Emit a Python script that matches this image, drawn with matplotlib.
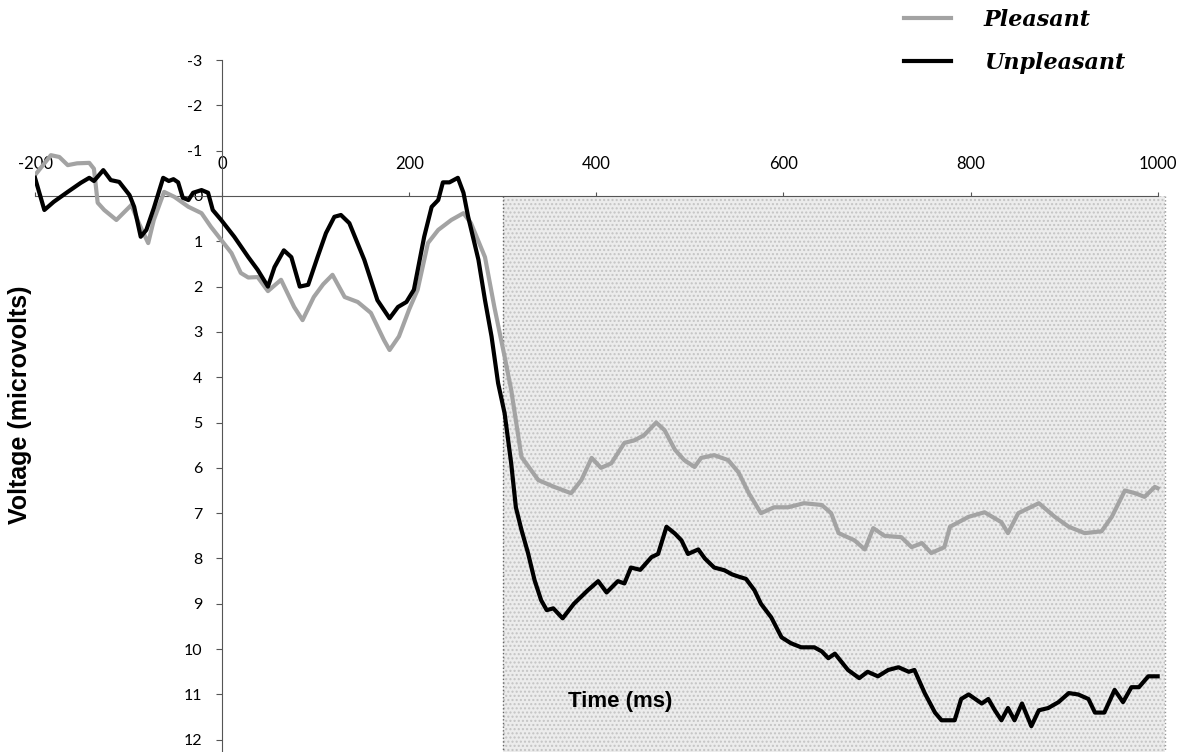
import matplotlib
matplotlib.use('Agg')
from matplotlib import pyplot as plt

plt.rcParams['axes.unicode_minus'] = False

# time (ms) / voltage (microvolts)
unpleasant_t = [-200, -190, -180, -165, -151, -142, -137, -127, -119, -110, -99, -94, -87, -81, -73, -63, -57, -52, -47, -42,
	-36, -31, -22, -15, -10, -1, 13, 28, 38, 49, 56, 66, 74, 83, 92, 102, 111, 120, 127, 136,
	152, 166, 179, 188, 197, 205, 216, 224, 231, 236, 243, 252, 258, 263, 274, 281, 288, 295, 302, 309,
	314, 320, 327, 334, 341, 347, 354, 364, 376, 391, 402, 411, 423, 430, 437, 447, 459, 466, 475, 484,
	491, 498, 509, 516, 526, 537, 545, 552, 560, 569, 576, 587, 598, 608, 619, 633, 641, 648, 655, 669,
	681, 690, 701, 712, 723, 734, 740, 751, 762, 769, 783, 790, 798, 812, 819, 826, 833, 840, 847, 855,
	865, 873, 883, 894, 905, 915, 926, 933, 943, 954, 963, 972, 980, 990, 1000]
unpleasant_v = [-0.4, 0.31, 0.13, -0.09, -0.29, -0.4, -0.33, -0.57, -0.35, -0.31, -0.02, 0.24, 0.9, 0.75, 0.27, -0.4, -0.33, -0.37, -0.3, 0.04,
	0.09, -0.07, -0.13, -0.07, 0.31, 0.53, 0.9, 1.35, 1.63, 2.0, 1.57, 1.2, 1.35, 2.0, 1.96, 1.35, 0.82, 0.46, 0.42, 0.6,
	1.41, 2.3, 2.7, 2.45, 2.34, 2.07, 0.9, 0.24, 0.09, -0.3, -0.3, -0.4, -0.07, 0.46, 1.41, 2.3, 3.1, 4.13, 4.8, 5.9,
	6.87, 7.37, 7.88, 8.48, 8.92, 9.14, 9.1, 9.32, 9.0, 8.7, 8.5, 8.75, 8.5, 8.55, 8.2, 8.25, 7.97, 7.9, 7.3, 7.45,
	7.6, 7.9, 7.8, 8.0, 8.2, 8.26, 8.35, 8.4, 8.45, 8.7, 9.0, 9.3, 9.74, 9.87, 9.96, 9.96, 10.05, 10.2, 10.1, 10.46,
	10.64, 10.5, 10.6, 10.46, 10.4, 10.5, 10.46, 10.97, 11.4, 11.57, 11.57, 11.1, 11.0, 11.2, 11.1, 11.35, 11.57, 11.3, 11.57, 11.2,
	11.7, 11.35, 11.3, 11.17, 10.97, 11.0, 11.1, 11.4, 11.4, 10.9, 11.17, 10.84, 10.84, 10.6, 10.6]

pleasant_t = [-200, -183, -174, -165, -155, -142, -137, -133, -126, -113, -97, -89, -79, -73, -62, -51, -36, -22, -12, -1,
	10, 20, 28, 38, 49, 63, 77, 86, 98, 108, 118, 131, 145, 159, 173, 179, 189, 200, 209, 220,
	231, 245, 258, 266, 281, 291, 302, 309, 320, 338, 355, 373, 384, 395, 405, 416, 430, 441, 451, 464,
	473, 484, 494, 505, 512, 526, 541, 552, 563, 576, 590, 605, 622, 641, 651, 659, 676, 687, 696, 708,
	726, 737, 748, 758, 772, 778, 798, 815, 833, 840, 851, 873, 890, 905, 922, 940, 951, 965, 976, 986,
	997, 1000]
pleasant_v = [-0.46, -0.9, -0.86, -0.68, -0.72, -0.73, -0.6, 0.15, 0.31, 0.53, 0.2, 0.6, 1.04, 0.53, -0.09, 0.02, 0.24, 0.38, 0.68, 0.97,
	1.26, 1.7, 1.8, 1.79, 2.1, 1.85, 2.45, 2.74, 2.23, 1.95, 1.74, 2.23, 2.34, 2.58, 3.18, 3.4, 3.1, 2.5, 2.07, 1.04,
	0.75, 0.53, 0.38, 0.6, 1.35, 2.45, 3.55, 4.28, 5.76, 6.27, 6.42, 6.56, 6.27, 5.78, 6.0, 5.9, 5.45, 5.39, 5.28, 5.0,
	5.17, 5.6, 5.83, 5.98, 5.78, 5.72, 5.83, 6.1, 6.56, 7.0, 6.87, 6.87, 6.78, 6.82, 7.0, 7.44, 7.6, 7.8, 7.33, 7.5,
	7.53, 7.75, 7.66, 7.88, 7.75, 7.3, 7.08, 6.98, 7.2, 7.44, 7.0, 6.78, 7.08, 7.3, 7.44, 7.4, 7.08, 6.5, 6.56, 6.64,
	6.42, 6.45]

x_ticks = [-200, 0, 200, 400, 600, 800, 1000]
y_ticks = list(range(-3, 13))
window = (300, 1008)	# shaded analysis window (ms)

fig = plt.figure(figsize=(11.95, 7.52), dpi=100)
ax = fig.add_axes([35/1195, 0, 1132/1195, 692/752])

ax.axvspan(window[0], window[1], ymin=0, ymax=(12.27)/(15.27), facecolor='#ececec',
	edgecolor='#c4c4c4', hatch='....', linewidth=0, zorder=0)
ax.plot([window[0], window[0]], [0, 12.27], color='#666666', lw=1, ls=':', zorder=1)
ax.plot([window[1], window[1]], [0, 12.27], color='#999999', lw=1, ls=':', zorder=1)

ax.plot(pleasant_t, pleasant_v, color='#a3a3a3', lw=3, label='Pleasant', zorder=3)
ax.plot(unpleasant_t, unpleasant_v, color='black', lw=3, label='Unpleasant', zorder=4)

ax.set_xlim(-200, 1010)
ax.set_ylim(12.27, -3)

# axes cross at (0, 0)
ax.spines['left'].set_position(('data', 0))
ax.spines['top'].set_position(('data', 0))
ax.spines['top'].set_bounds(-200, 1000)
ax.spines['right'].set_visible(False)
ax.spines['bottom'].set_visible(False)
ax.spines['left'].set_color('#555555')
ax.spines['top'].set_color('#555555')

ax.xaxis.set_ticks_position('top')
ax.set_xticks(x_ticks)
ax.set_yticks(y_ticks)
ax.tick_params(axis='x', direction='out', length=3, pad=14, labelsize=12, color='#555555')
ax.tick_params(axis='y', direction='out', length=4, pad=10, labelsize=11.5, color='#555555')
for lab in ax.get_xticklabels() + ax.get_yticklabels():
	lab.set_family('Lato')

fig.text(20/1195, 1-405/752, 'Voltage (microvolts)', rotation=90, ha='center', va='center',
	fontsize=18, fontweight='bold', family='Liberation Sans')
fig.text(620/1195, 1-702/752, 'Time (ms)', ha='center', va='center',
	fontsize=16, fontweight='bold', family='Liberation Sans')

ax.legend(loc='upper left', bbox_to_anchor=(884/1195, 1.015), bbox_transform=fig.transFigure,
	frameon=False, handlelength=2.1, handletextpad=1.5, labelspacing=0.95,
	prop={'family': 'DejaVu Serif', 'weight': 'bold', 'style': 'italic', 'size': 16})

plt.savefig('out.png', dpi=100)
